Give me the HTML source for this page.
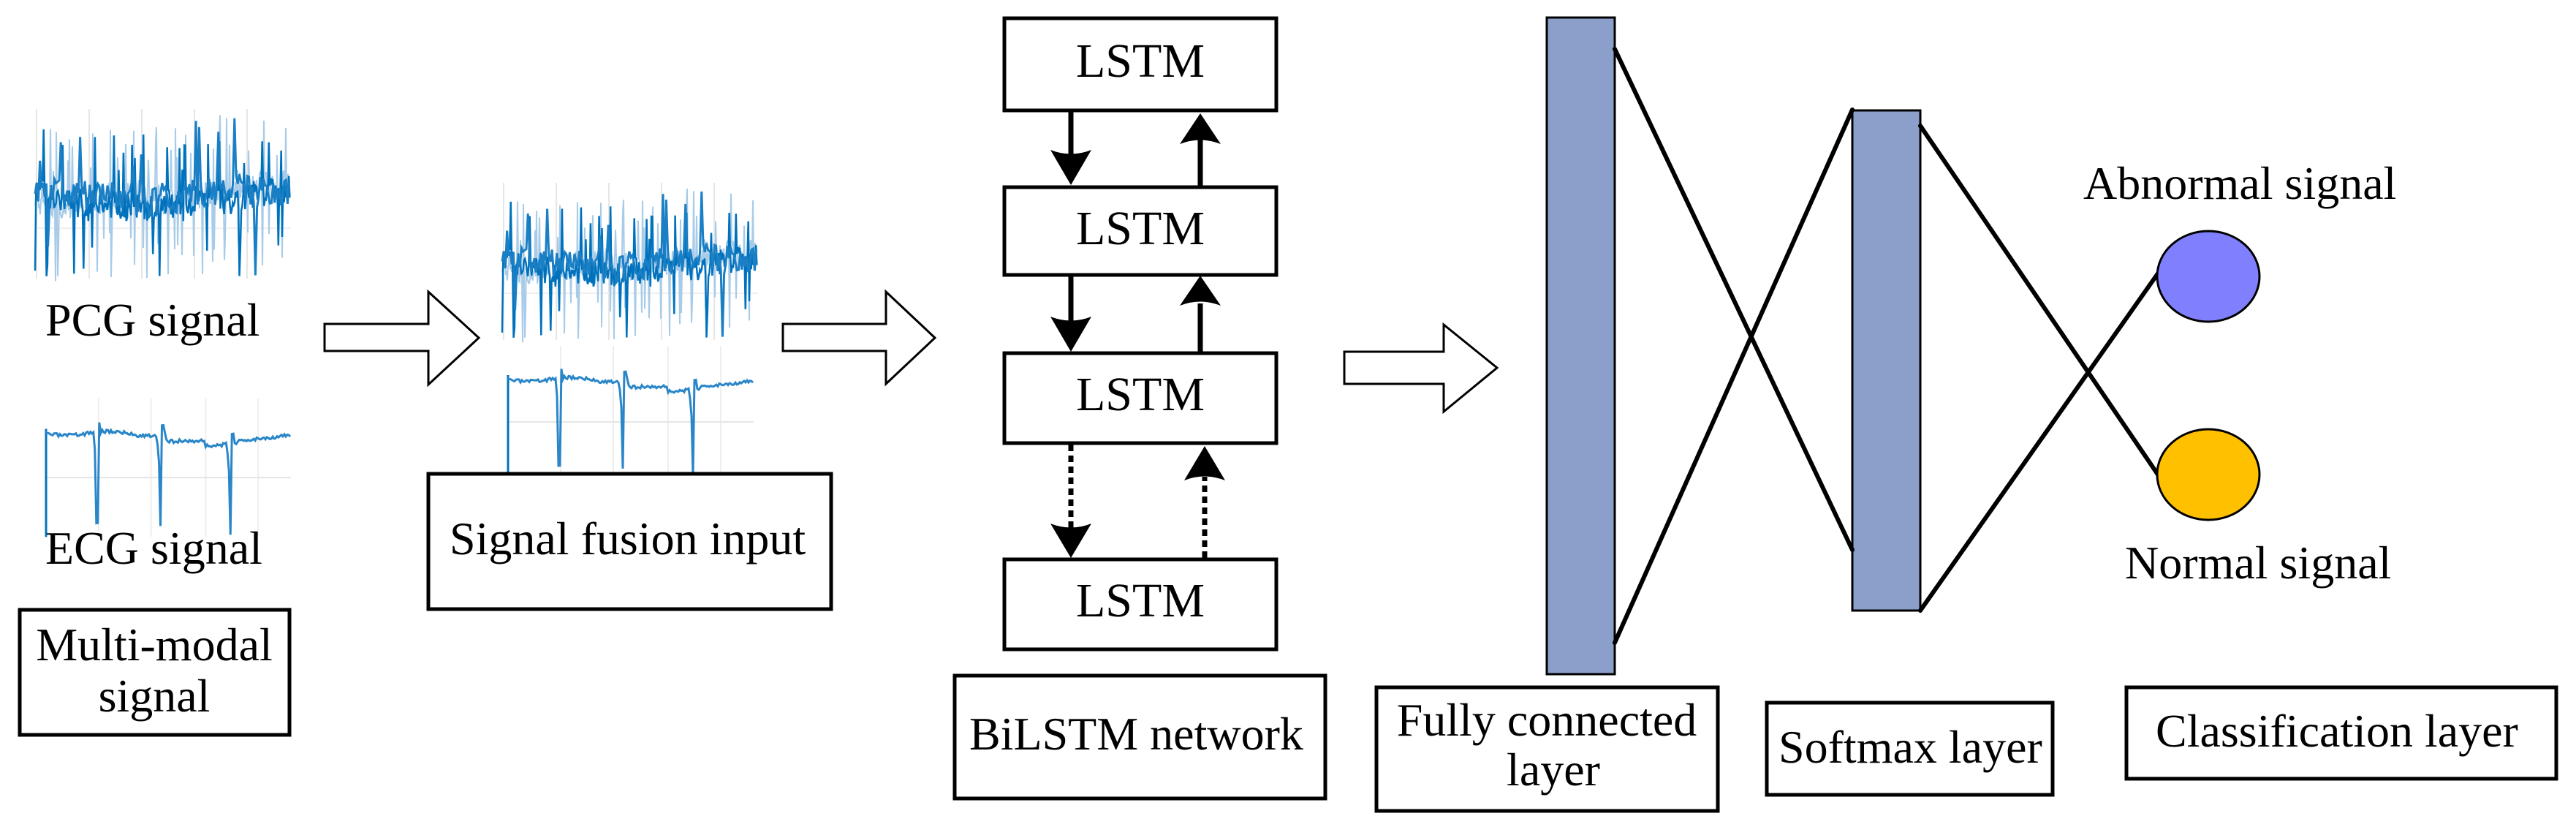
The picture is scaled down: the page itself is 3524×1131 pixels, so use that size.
<!DOCTYPE html>
<html><head><meta charset="utf-8"><style>
html,body{margin:0;padding:0;background:#fff;}
svg{display:block;}
svg text{font-family:"Liberation Serif","Times New Roman",serif !important;font-size:64px;fill:#000;}
</style></head><body>
<svg id="s" width="3524" height="1131" viewBox="0 0 3524 1131" xmlns="http://www.w3.org/2000/svg" font-family="Liberation Serif, serif">
<defs>
<g id="pcg"><g id="pcggrid"></g><g id="pcgsig"></g></g>
<g id="ecg"><g id="ecggrid"></g><g id="ecgsig"></g></g>
</defs>
<use href="#pcg" transform="translate(48,149) scale(1.0,1.08)"/>
<use href="#ecg" transform="translate(62,547) scale(0.997,1.04)"/>
<use href="#pcg" transform="translate(687,250)"/>
<use href="#ecg" transform="translate(694,475)"/>

<text x="62" y="459" font-family="Liberation Serif, serif">PCG signal</text>
<text x="62" y="771" font-family="Liberation Serif, serif">ECG signal</text>
<rect x="27" y="834" width="369" height="171" fill="none" stroke="#000" stroke-width="5"/>
<text x="211" y="903" text-anchor="middle" font-family="Liberation Serif, serif">Multi-modal</text>
<text x="211" y="973" text-anchor="middle" font-family="Liberation Serif, serif">signal</text>

<polygon points="444,443 586,443 586,399 655,462 586,526 586,480 444,480" fill="#fff" stroke="#000" stroke-width="3"/>

<rect x="586" y="648" width="551" height="185" fill="#fff" stroke="#000" stroke-width="5"/>
<text x="615" y="758" font-family="Liberation Serif, serif">Signal fusion input</text>

<polygon points="1071,443 1212,443 1212,399 1279,462 1212,525 1212,480 1071,480" fill="#fff" stroke="#000" stroke-width="3"/>

<g fill="none" stroke="#000" stroke-width="5">
<rect x="1374" y="25" width="372" height="126"/>
<rect x="1374" y="256" width="372" height="120"/>
<rect x="1374" y="483" width="372" height="123"/>
<rect x="1374" y="765" width="372" height="123"/>
</g>
<text x="1560" y="105" text-anchor="middle" font-family="Liberation Serif, serif" style="font-size:66px">LSTM</text>
<text x="1560" y="334" text-anchor="middle" font-family="Liberation Serif, serif" style="font-size:66px">LSTM</text>
<text x="1560" y="561" text-anchor="middle" font-family="Liberation Serif, serif" style="font-size:66px">LSTM</text>
<text x="1560" y="843" text-anchor="middle" font-family="Liberation Serif, serif" style="font-size:66px">LSTM</text>
<g stroke="#000" stroke-width="7" fill="none">
<line x1="1465" y1="153" x2="1465" y2="215"/>
<line x1="1642" y1="254" x2="1642" y2="190"/>
<line x1="1465" y1="378" x2="1465" y2="440"/>
<line x1="1642" y1="481" x2="1642" y2="415"/>
<line x1="1465" y1="608" x2="1465" y2="722" stroke-dasharray="9,6"/>
<line x1="1648" y1="763" x2="1648" y2="652" stroke-dasharray="9,6"/>
</g>
<g fill="#000">
<path d="M1437,205 Q1465,216 1493,205 L1465,253 Z"/>
<path d="M1614,197 Q1642,186 1670,197 L1642,155 Z"/>
<path d="M1437,433 Q1465,444 1493,433 L1465,481 Z"/>
<path d="M1614,418 Q1642,407 1670,418 L1642,377 Z"/>
<path d="M1437,716 Q1465,727 1493,716 L1465,763 Z"/>
<path d="M1620,657 Q1648,646 1676,657 L1648,610 Z"/>
</g>
<rect x="1306" y="924" width="507" height="168" fill="none" stroke="#000" stroke-width="5"/>
<text x="1326" y="1025" font-family="Liberation Serif, serif">BiLSTM network</text>

<polygon points="1839,481 1975,481 1975,444 2048,503 1975,563 1975,525 1839,525" fill="#fff" stroke="#000" stroke-width="3"/>

<rect x="2116" y="24" width="93" height="898" fill="#8C9FCA" stroke="#000" stroke-width="3"/>
<rect x="2534" y="151" width="93" height="684" fill="#8C9FCA" stroke="#000" stroke-width="3"/>
<g stroke="#000" stroke-width="6" fill="none" stroke-linecap="round">
<line x1="2209" y1="67" x2="2534" y2="752"/>
<line x1="2209" y1="879" x2="2534" y2="150"/>
<line x1="2627" y1="172" x2="2952" y2="649"/>
<line x1="2627" y1="835" x2="2952" y2="374"/>
</g>
<ellipse cx="3021" cy="378" rx="70" ry="62" fill="#8080FF" stroke="#000" stroke-width="3"/>
<ellipse cx="3021" cy="649" rx="70" ry="62" fill="#FFC000" stroke="#000" stroke-width="3"/>
<text x="2850" y="272" font-family="Liberation Serif, serif">Abnormal signal</text>
<text x="2907" y="791" font-family="Liberation Serif, serif">Normal signal</text>

<rect x="1883" y="940" width="467" height="169" fill="none" stroke="#000" stroke-width="5"/>
<text x="2116" y="1006" text-anchor="middle" font-family="Liberation Serif, serif">Fully connected</text>
<text x="2125" y="1074" text-anchor="middle" font-family="Liberation Serif, serif">layer</text>
<rect x="2417" y="961" width="391" height="126" fill="none" stroke="#000" stroke-width="5"/>
<text x="2433" y="1043" font-family="Liberation Serif, serif">Softmax layer</text>
<rect x="2909" y="940" width="588" height="125" fill="none" stroke="#000" stroke-width="5"/>
<text x="2949" y="1021" font-family="Liberation Serif, serif">Classification layer</text>
</svg>
<script>
(function(){
var NS="http://www.w3.org/2000/svg";
var seed=7;function r(){seed=(seed*16807)%2147483647;return seed/2147483647;}
function el(p,n,a){var e=document.createElementNS(NS,n);for(var k in a)e.setAttribute(k,a[k]);p.appendChild(e);return e;}
var pg=document.getElementById('pcggrid');
[2,74,146,218,290].forEach(function(x){el(pg,'line',{x1:x,y1:0,x2:x,y2:215,stroke:'#e6e6e6','stroke-width':2});});
el(pg,'line',{x1:0,y1:151,x2:350,y2:151,stroke:'#f0f0f0','stroke-width':2});
var ps=document.getElementById('pcgsig');
function sig(s,step,col,w,pu,pd){
 seed=s;var pts=[],x=0,base=110;
 while(x<349){
  base+=(r()-0.5)*5; if(base<95)base=95; if(base>125)base=125;
  var y=base+(r()-0.5)*36;
  if(r()<pu) y=base-40-r()*55;
  if(r()<pd) y=base+50+r()*55;
  pts.push(x.toFixed(1)+','+y.toFixed(1));
  x+=step;
 }
 el(ps,'polyline',{points:pts.join(' '),fill:'none',stroke:col,'stroke-width':w});
}
sig(7,1.0,'#a8cbe8',2,0.08,0.06);
sig(11,1.3,'#0072BD',2.5,0.07,0.06);
sig(19,2.2,'#1a7fc4',3,0.05,0.03);
var eg=document.getElementById('ecggrid');
[73,145,220,292].forEach(function(x){el(eg,'line',{x1:x,y1:-2,x2:x,y2:180,stroke:'#eeeeee','stroke-width':2});});
el(eg,'line',{x1:0,y1:102,x2:337,y2:102,stroke:'#e6e6e6','stroke-width':2});
var es=document.getElementById('ecgsig');
el(es,'line',{x1:1,y1:38,x2:1,y2:180,stroke:'#0072BD','stroke-width':3});
seed=3;var pts=[];
var spikes=[70,157,253];
for(var i=0;i<=337;i+=2){
 var b;
 if(i<165) b=44+Math.sin(i/18)*3;
 else if(i<220) b=54;
 else if(i<280) b=60-(i-240>0?(i-240)*0.2:0);
 else b=52-(i-280)*0.1;
 var y=b+(r()-0.5)*5;
 for(var k=0;k<spikes.length;k++){var d=i-spikes[k];
  if(d>=-4&&d<0) y=b+(d+4)*12;
  if(d>=0&&d<3) y=b+120;
  if(d>=3&&d<6) y=b-12;
 }
 pts.push(i+','+y.toFixed(1));
}
el(es,'polyline',{points:pts.join(' '),fill:'none',stroke:'#2a86c8','stroke-width':3});
})();
</script>
</body></html>
